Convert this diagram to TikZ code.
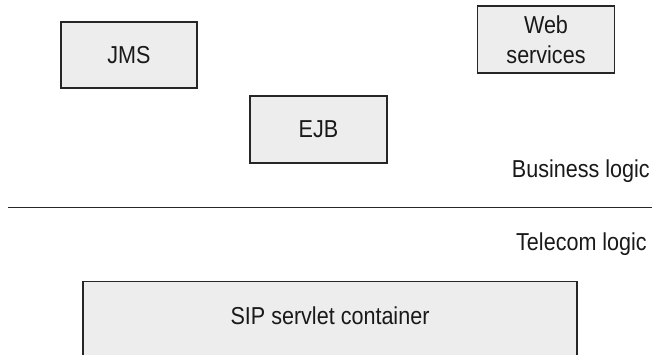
\documentclass[tikz,border=0pt]{standalone}
\usepackage{fontspec}
\setmainfont{Liberation Sans}[FakeStretch=0.88]
\begin{document}
\begin{tikzpicture}[x=1pt,y=-1pt,
  every node/.style={text=black!90, font=\fontsize{24.5}{30}\selectfont},
  compbox/.style={draw=black!85, line width=1.2pt, fill=black!7, inner sep=0pt, align=center},
  layerlabel/.style={anchor=base east, inner sep=0pt}]
  \useasboundingbox (0,0) rectangle (652,354);
  \clip (0,0) rectangle (652,354);

  % business-logic components
  \node[compbox, minimum width=136pt, minimum height=66pt] (jms) at (129,55) {JMS};
  \node[compbox, minimum width=137pt, minimum height=67pt] (web) at (546,39.5) {Web\\services};
  \node[compbox, minimum width=137pt, minimum height=67pt] (ejb) at (318.5,129.5) {EJB};

  % layer separator
  \coordinate (sepL) at (8,207.3);
  \coordinate (sepR) at (652,207.3);
  \draw[line width=1.1pt, black!85] (sepL) -- (sepR);

  % layer names
  \node[layerlabel] (biz) at (650,177) {Business logic};
  \node[layerlabel] (tel) at (647,250) {Telecom logic};

  % SIP container, running past the lower edge
  \node[compbox, minimum width=494pt, minimum height=90pt, anchor=north] (sip) at (330,281) {};
  \node[anchor=base, inner sep=0pt] (siptext) at (330,324) {SIP servlet container};
\end{tikzpicture}
\end{document}
